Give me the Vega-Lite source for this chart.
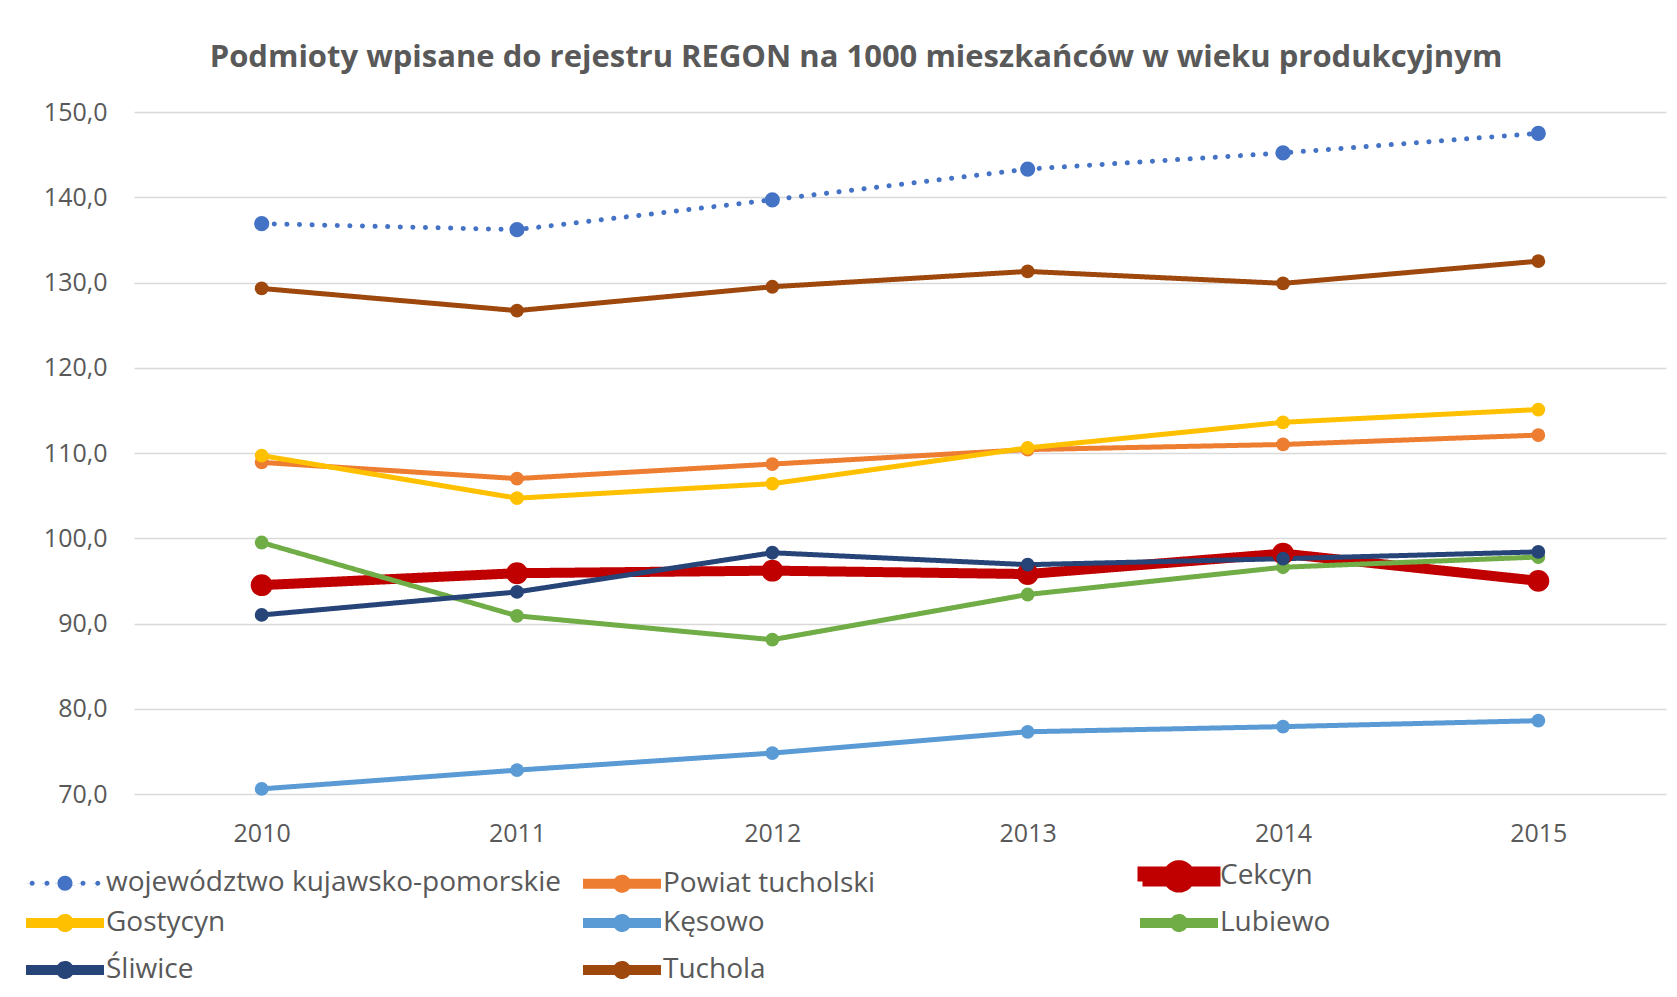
{
  "$schema": "https://vega.github.io/schema/vega-lite/v6.json",
  "width": 1532,
  "height": 682,
  "autosize": {"type": "none"},
  "padding": {"left": 134, "top": 112, "right": 11, "bottom": 203},
  "background": "white",
  "config": {"view": {"stroke": null}, "font": "Open Sans"},
  "title": {
    "text": "Podmioty wpisane do rejestru REGON na 1000 mieszkańców w wieku produkcyjnym",
    "fontSize": 31,
    "fontWeight": "bold",
    "color": "#595959",
    "anchor": "middle",
    "frame": "group",
    "dx": -44,
    "offset": 26
  },
  "data": {
    "values": [
      {"series": "województwo kujawsko-pomorskie", "year": "2010", "value": 136.9},
      {"series": "województwo kujawsko-pomorskie", "year": "2011", "value": 136.2},
      {"series": "województwo kujawsko-pomorskie", "year": "2012", "value": 139.7},
      {"series": "województwo kujawsko-pomorskie", "year": "2013", "value": 143.3},
      {"series": "województwo kujawsko-pomorskie", "year": "2014", "value": 145.2},
      {"series": "województwo kujawsko-pomorskie", "year": "2015", "value": 147.5},
      {"series": "Powiat tucholski", "year": "2010", "value": 108.9},
      {"series": "Powiat tucholski", "year": "2011", "value": 107.0},
      {"series": "Powiat tucholski", "year": "2012", "value": 108.7},
      {"series": "Powiat tucholski", "year": "2013", "value": 110.4},
      {"series": "Powiat tucholski", "year": "2014", "value": 111.0},
      {"series": "Powiat tucholski", "year": "2015", "value": 112.1},
      {"series": "Cekcyn", "year": "2010", "value": 94.5},
      {"series": "Cekcyn", "year": "2011", "value": 95.9},
      {"series": "Cekcyn", "year": "2012", "value": 96.2},
      {"series": "Cekcyn", "year": "2013", "value": 95.8},
      {"series": "Cekcyn", "year": "2014", "value": 98.2},
      {"series": "Cekcyn", "year": "2015", "value": 95.0},
      {"series": "Gostycyn", "year": "2010", "value": 109.7},
      {"series": "Gostycyn", "year": "2011", "value": 104.7},
      {"series": "Gostycyn", "year": "2012", "value": 106.4},
      {"series": "Gostycyn", "year": "2013", "value": 110.6},
      {"series": "Gostycyn", "year": "2014", "value": 113.6},
      {"series": "Gostycyn", "year": "2015", "value": 115.1},
      {"series": "Kęsowo", "year": "2010", "value": 70.6},
      {"series": "Kęsowo", "year": "2011", "value": 72.8},
      {"series": "Kęsowo", "year": "2012", "value": 74.8},
      {"series": "Kęsowo", "year": "2013", "value": 77.3},
      {"series": "Kęsowo", "year": "2014", "value": 77.9},
      {"series": "Kęsowo", "year": "2015", "value": 78.6},
      {"series": "Lubiewo", "year": "2010", "value": 99.5},
      {"series": "Lubiewo", "year": "2011", "value": 90.9},
      {"series": "Lubiewo", "year": "2012", "value": 88.1},
      {"series": "Lubiewo", "year": "2013", "value": 93.4},
      {"series": "Lubiewo", "year": "2014", "value": 96.6},
      {"series": "Lubiewo", "year": "2015", "value": 97.8},
      {"series": "Śliwice", "year": "2010", "value": 91.0},
      {"series": "Śliwice", "year": "2011", "value": 93.7},
      {"series": "Śliwice", "year": "2012", "value": 98.3},
      {"series": "Śliwice", "year": "2013", "value": 96.9},
      {"series": "Śliwice", "year": "2014", "value": 97.6},
      {"series": "Śliwice", "year": "2015", "value": 98.4},
      {"series": "Tuchola", "year": "2010", "value": 129.3},
      {"series": "Tuchola", "year": "2011", "value": 126.7},
      {"series": "Tuchola", "year": "2012", "value": 129.5},
      {"series": "Tuchola", "year": "2013", "value": 131.3},
      {"series": "Tuchola", "year": "2014", "value": 129.9},
      {"series": "Tuchola", "year": "2015", "value": 132.5}
    ]
  },
  "encoding": {
    "x": {
      "field": "year",
      "type": "ordinal",
      "scale": {"type": "point", "padding": 0.5},
      "axis": {
        "title": null,
        "domain": false,
        "ticks": false,
        "labelAngle": 0,
        "labelFontSize": 25,
        "labelColor": "#595959",
        "labelPadding": 27
      }
    },
    "y": {
      "field": "value",
      "type": "quantitative",
      "scale": {"domain": [70, 150], "nice": false, "zero": false},
      "axis": {
        "title": null,
        "values": [70, 80, 90, 100, 110, 120, 130, 140, 150],
        "domain": false,
        "ticks": false,
        "gridColor": "#D9D9D9",
        "gridWidth": 1.5,
        "labelFontSize": 25,
        "labelColor": "#595959",
        "labelPadding": 27,
        "labelExpr": "replace(format(datum.value, '.1f'), '.', ',')"
      }
    },
    "color": {
      "field": "series",
      "type": "nominal",
      "scale": {
        "domain": ["województwo kujawsko-pomorskie", "Powiat tucholski", "Cekcyn", "Gostycyn", "Kęsowo", "Lubiewo", "Śliwice", "Tuchola"],
        "range": ["#4472C4", "#ED7D31", "#C00000", "#FFC000", "#5B9BD5", "#70AD47", "#264478", "#9E480E"]
      },
      "legend": {
        "title": null,
        "orient": "none",
        "legendX": -83,
        "legendY": 750,
        "direction": "horizontal",
        "columns": 3,
        "gridAlign": "all",
        "columnPadding": 3,
        "rowPadding": -2,
        "symbolType": "M-4.5625,-0.3125H-0.6V0.3125H-4.5625Z M0.6,-0.3125H4.5625V0.3125H0.6Z M-0.8125,0A0.8125,0.8125,0,1,1,0.8125,0A0.8125,0.8125,0,1,1,-0.8125,0Z",
        "symbolSize": 256,
        "symbolStrokeWidth": 0,
        "labelFontSize": 28,
        "labelLimit": 1000,
        "labelColor": "#595959",
        "labelOffset": 27,
        "encode": {
          "symbols": {
            "update": {
              "fill": {"scale": "color", "field": "value"},
              "strokeWidth": {"value": 0},
              "opacity": {"value": 1},
              "shape": {"signal": "datum.value === 'Cekcyn' ? 'M-4.5625,-0.625H-1V0.625H-4.5625Z M1,-0.625H4.5625V0.625H1Z M-1.4,0A1.4,1.4,0,1,1,1.4,0A1.4,1.4,0,1,1,-1.4,0Z' : datum.value === 'województwo kujawsko-pomorskie' ? 'M-4.4125,0A0.3125,0.3125,0,1,1,-3.7875,0A0.3125,0.3125,0,1,1,-4.4125,0Z M-2.5625,0A0.3125,0.3125,0,1,1,-1.9375,0A0.3125,0.3125,0,1,1,-2.5625,0Z M1.9375,0A0.3125,0.3125,0,1,1,2.5625,0A0.3125,0.3125,0,1,1,1.9375,0Z M3.7875,0A0.3125,0.3125,0,1,1,4.4125,0A0.3125,0.3125,0,1,1,3.7875,0Z M-0.94,0A0.94,0.94,0,1,1,0.94,0A0.94,0.94,0,1,1,-0.94,0Z' : 'M-4.5625,-0.3125H-0.6V0.3125H-4.5625Z M0.6,-0.3125H4.5625V0.3125H0.6Z M-0.8125,0A0.8125,0.8125,0,1,1,0.8125,0A0.8125,0.8125,0,1,1,-0.8125,0Z'"}
            }
          }
        }
      }
    }
  },
  "layer": [
    {
      "mark": {"type": "line", "strokeCap": "round", "strokeJoin": "round"},
      "encoding": {
        "strokeDash": {
          "field": "series",
          "type": "nominal",
          "scale": {
            "domain": ["województwo kujawsko-pomorskie", "Powiat tucholski", "Cekcyn", "Gostycyn", "Kęsowo", "Lubiewo", "Śliwice", "Tuchola"],
            "range": [[0.1, 12.5], [1, 0], [1, 0], [1, 0], [1, 0], [1, 0], [1, 0], [1, 0]]
          },
          "legend": null
        },
        "strokeWidth": {
          "field": "series",
          "type": "ordinal",
          "scale": {
            "type": "ordinal",
            "domain": ["województwo kujawsko-pomorskie", "Powiat tucholski", "Cekcyn", "Gostycyn", "Kęsowo", "Lubiewo", "Śliwice", "Tuchola"],
            "range": [5, 5, 10, 5, 5, 5, 5, 5]
          },
          "legend": null
        }
      }
    },
    {
      "transform": [{"filter": "datum.series === 'Cekcyn'"}],
      "mark": {"type": "point", "filled": true, "opacity": 1, "shape": "circle", "size": 480}
    },
    {
      "transform": [{"filter": "datum.series === 'województwo kujawsko-pomorskie'"}],
      "mark": {"type": "point", "filled": true, "opacity": 1, "shape": "circle", "size": 230}
    },
    {
      "transform": [{"filter": "datum.series !== 'Cekcyn' && datum.series !== 'województwo kujawsko-pomorskie'"}],
      "mark": {"type": "point", "filled": true, "opacity": 1, "shape": "circle", "size": 190}
    }
  ]
}
